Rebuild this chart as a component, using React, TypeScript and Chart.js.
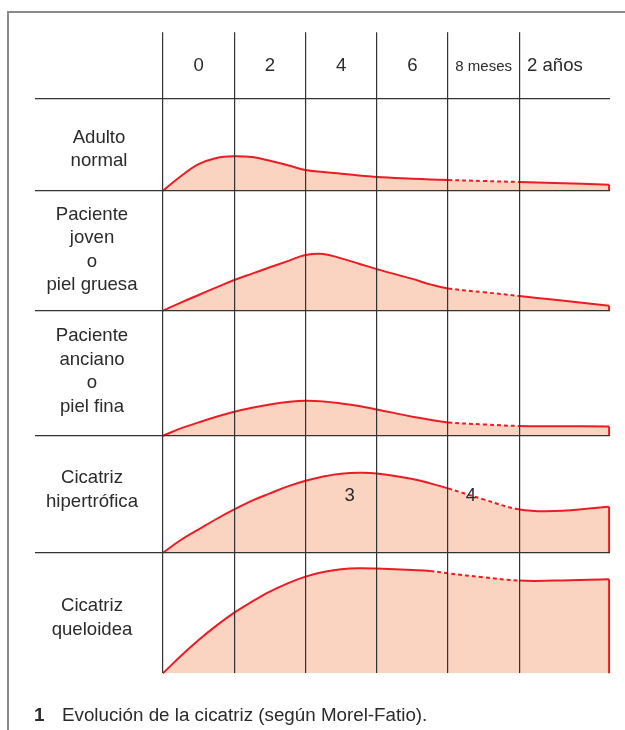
import React, { useEffect, useRef } from "react";
import { Chart, registerables } from "chart.js";

Chart.register(...registerables);

// ---- data ----
const columnLabels = ["0", "2", "4", "6", "8 meses", "2 años"];
const rowLabels = [
  ["Adulto", "normal"],
  ["Paciente", "joven", "o", "piel gruesa"],
  ["Paciente", "anciano", "o", "piel fina"],
  ["Cicatriz", "hipertrófica"],
  ["Cicatriz", "queloidea"],
];
// time position in column units (0 = start of column "0")
const T = [0, 0.25, 0.5, 0.75, 1, 1.25, 1.5, 1.75, 2, 2.25, 2.5, 2.75, 3, 3.5, 3.75, 4, 4.5, 5, 5.5, 6.26];
const adultoNormal = [0, 14.5, 26.5, 32.8, 34.5, 33.6, 30, 25.5, 20.7, 18.6, 17, 15.3, 13.7, 12, 11.3, 10.7, 9.7, 8.7, 7.7, 6];
const pacienteJoven = [0, 8.1, 15.7, 23.3, 30.7, 37.1, 43.4, 49.6, 55.7, 56.8, 52.3, 47, 41.6, 31.8, 26.3, 22.3, 18.5, 14.7, 10.9, 5];
const pacienteAnciano = [0, 7.3, 13.3, 19, 24, 28, 31.3, 33.7, 35, 34.3, 32.3, 29.7, 26.3, 19, 16, 13.3, 11.3, 9.7, 9.5, 9.3];
const cicatrizHipertrofica = [0, 12.7, 23.3, 33.7, 43.3, 52, 59.3, 66.3, 72, 76.3, 79, 80, 79.3, 73.7, 69.3, 64.3, 53.3, 43.3, 41.7, 46];
const cicatrizQueloidea = [0, 17.3, 33.3, 47.7, 60.7, 71.7, 81.7, 90, 96.7, 101.3, 104, 105, 104.7, 103.3, 102.3, 100, 96, 92.7, 92.7, 94];
const series = [adultoNormal, pacienteJoven, pacienteAnciano, cicatrizHipertrofica, cicatrizQueloidea];
// uncertain (dashed) stretch of each curve
const dashFrom = [4, 4, 4, 4, 3.75];
const dashTo = [5, 5, 5, 5, 5];
// numbered marks inside the hypertrophic scar row
const marks = [
  { text: "3", x: 2.62, h: 51.7, row: 3 },
  { text: "4", x: 4.32, h: 51.7, row: 3 },
];

// ---- layout (pixels) ----
const AREA_LEFT = 35;
const AREA_TOP = 32.3;
const AREA_BOTTOM = 673.3;
const AREA_RIGHT = 610;
const COL_LEFT = 163;
const COL_W = 71.26;
const HEADER_LINE = 98.3;
const ROW_BASE_PX = [190.7, 310.7, 435.7, 552.7, 673.3];
const ROW_LABEL_MID = [154.3, 255, 376.7, 495, 623];
const ROW_LABEL_X = [99, 92, 92, 92, 92];
const LINE_GAP = 23.5;
const HEADER_BASELINE = 70.7;

const X_MIN = -(COL_LEFT - AREA_LEFT) / COL_W;
const X_MAX = (AREA_RIGHT - COL_LEFT) / COL_W;
const Y_MAX = AREA_BOTTOM - AREA_TOP;
const toY = (px: number) => AREA_BOTTOM - px;

const RED = "#ec1c24";
const FILL = "#fad3c1";
const GRID = "#333333";
const TEXT = "#2b2b2b";
const FONT = '"Liberation Sans", Arial, Helvetica, sans-serif';

const labelsPlugin = {
  id: "diagramLabels",
  afterDraw(chart: any) {
    const { ctx, scales } = chart;
    const xs = scales.x;
    const ys = scales.y;
    ctx.save();
    ctx.fillStyle = TEXT;
    ctx.textAlign = "center";
    ctx.textBaseline = "alphabetic";
    columnLabels.forEach((lab, i) => {
      ctx.font = (lab.length > 6 ? "15px " : "18.6px ") + FONT;
      ctx.fillText(lab, xs.getPixelForValue(i + 0.5), HEADER_BASELINE);
    });
    ctx.font = "18.6px " + FONT;
    rowLabels.forEach((lines, r) => {
      const n = lines.length;
      lines.forEach((t, i) => {
        ctx.fillText(t, ROW_LABEL_X[r], ROW_LABEL_MID[r] + (i - (n - 1) / 2) * LINE_GAP);
      });
    });
    marks.forEach((m) => {
      const base = toY(ROW_BASE_PX[m.row]);
      ctx.fillText(m.text, xs.getPixelForValue(m.x), ys.getPixelForValue(base + m.h));
    });
    ctx.restore();
  },
};

export default function App() {
  const ref = useRef<HTMLCanvasElement>(null);

  useEffect(() => {
    const canvas = ref.current;
    if (!canvas) return;
    const fills: any[] = [];
    const lines: any[] = [];
    series.forEach((vals, r) => {
      const base = toY(ROW_BASE_PX[r]);
      const d0 = dashFrom[r];
      const d1 = dashTo[r];
      const pts = T.map((x, i) => ({ x, y: base + vals[i] }));
      // filled area (no border, so no seams where the line style changes)
      fills.push({
        data: pts,
        borderWidth: 0,
        borderColor: "rgba(0,0,0,0)",
        backgroundColor: FILL,
        fill: { value: base },
        pointRadius: 0,
        tension: 0.4,
        clip: false,
        order: 2,
      });
      // outline with dashed uncertain stretch
      lines.push({
        data: pts,
        borderColor: RED,
        borderWidth: 2,
        fill: false,
        pointRadius: 0,
        tension: 0.4,
        clip: false,
        order: 1,
        segment: {
          borderDash: (c: any) =>
            c.p0.parsed.x >= d0 - 1e-6 && c.p1.parsed.x <= d1 + 1e-6 ? [4, 3] : undefined,
        },
      });
      const last = T.length - 1;
      lines.push({
        data: [
          { x: T[last], y: base + vals[last] },
          { x: T[last], y: base },
        ],
        borderColor: RED,
        borderWidth: 2,
        pointRadius: 0,
        fill: false,
        tension: 0,
        clip: false,
        order: 1,
      });
    });

    const rowTicks = [toY(HEADER_LINE), ...ROW_BASE_PX.slice(0, 4).map(toY)];

    const chart = new Chart(canvas, {
      type: "line",
      data: { datasets: [...lines, ...fills] },
      plugins: [labelsPlugin],
      options: {
        responsive: false,
        animation: false,
        events: [],
        layout: {
          padding: {
            left: AREA_LEFT,
            top: AREA_TOP,
            right: 625 - AREA_RIGHT,
            bottom: 730 - AREA_BOTTOM,
          },
        },
        plugins: { legend: { display: false }, tooltip: { enabled: false } },
        scales: {
          x: {
            type: "linear",
            min: X_MIN,
            max: X_MAX,
            grid: { color: GRID, lineWidth: 1.2, drawTicks: false, z: 1 },
            border: { display: false },
            ticks: { display: false },
            afterBuildTicks: (s: any) => {
              s.ticks = columnLabels.map((_, i) => ({ value: i }));
            },
            afterFit: (s: any) => {
              s.height = 0;
            },
          },
          y: {
            type: "linear",
            min: 0,
            max: Y_MAX,
            grid: { color: GRID, lineWidth: 1.2, drawTicks: false, z: 1 },
            border: { display: false },
            ticks: { display: false },
            afterBuildTicks: (s: any) => {
              s.ticks = rowTicks.map((v) => ({ value: v }));
            },
            afterFit: (s: any) => {
              s.width = 0;
            },
          },
        },
      } as any,
    });
    return () => chart.destroy();
  }, []);

  return (
    <div style={{ position: "absolute", left: 0, top: 0, width: 625, height: 730, overflow: "hidden", background: "#fff" }}>
      <div
        style={{
          position: "absolute",
          left: 7,
          top: 11,
          width: 640,
          height: 740,
          borderLeft: "2px solid #8a8a8a",
          borderTop: "2px solid #8a8a8a",
        }}
      />
      <canvas ref={ref} width={625} height={730} style={{ position: "absolute", left: 0, top: 0 }} />
      <div
        style={{
          position: "absolute",
          left: 34,
          top: 706,
          fontFamily: FONT,
          fontSize: 18.8,
          lineHeight: "18px",
          color: TEXT,
          whiteSpace: "nowrap",
        }}
      >
        <span style={{ fontWeight: "bold" }}>1</span>
        <span style={{ position: "absolute", left: 28 }}>Evolución de la cicatriz (según Morel-Fatio).</span>
      </div>
    </div>
  );
}
